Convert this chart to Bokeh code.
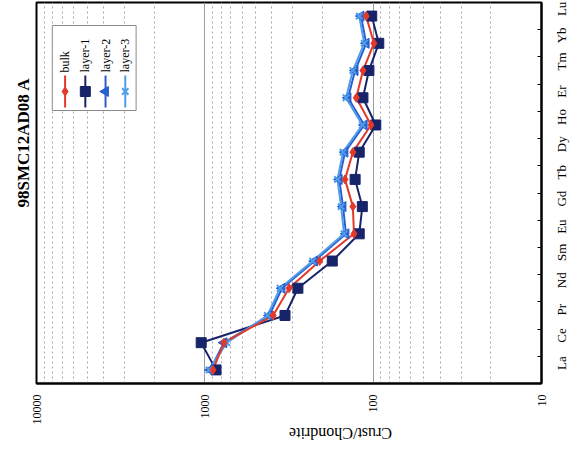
import math
from bokeh.plotting import figure
from bokeh.models import Range1d, FixedTicker, PrintfTickFormatter
from bokeh.core.properties import value
from bokeh.embed import file_html
from bokeh.resources import INLINE

# ---- data ----
elements = ["La", "Ce", "Pr", "Nd", "Sm", "Eu", "Gd", "Tb", "Dy", "Ho", "Er", "Tm", "Yb", "Lu"]
bulk   = [894, 770, 393, 316, 208, 130, 132, 147, 132, 103, 126, 115, 99, 110]
layer1 = [858, 1051, 334, 280, 175, 121, 116, 128, 121, 96.5, 115, 106, 92.6, 102]
layer2 = [931, 770, 414, 348, 223, 145, 151, 159, 147, 113, 141, 128, 110, 118]
layer3 = [943, 740, 425, 357, 229, 149, 155, 163, 151, 116, 145, 132, 113, 121]
value_ticks = [10, 100, 1000, 10000]
series_names = ["bulk", "layer-1", "layer-2", "layer-3"]

SERIF = "Liberation Serif"
pos = list(range(1, len(elements) + 1))

W, H = 579, 457
FL, FR, FT, FB = 36, 548, 2, 383   # frame edges in px

p = figure(width=W, height=H, x_axis_type="log",
           x_range=Range1d(10000, 10), y_range=Range1d(0.5, len(elements) + 0.5),
           y_axis_location="right", output_backend="svg", toolbar_location=None,
           title="98SMC12AD08 A", title_location="left",
           min_border_left=FL, min_border_right=W - FR, min_border_top=FT, min_border_bottom=H - FB)

p.background_fill_color = "white"
p.border_fill_color = "white"
p.outline_line_color = "black"
p.outline_line_width = 2

p.title.text_font = SERIF
p.title.text_font_size = "17px"
p.title.text_font_style = "bold"
p.title.text_color = "black"
p.title.align = "left"
p.title.offset = 176
p.title.standoff = 7

# value axis (bottom, reversed log)
minors = [k * d for d in (10, 100, 1000) for k in range(2, 10)]
xa = p.xaxis[0]
xa.ticker = FixedTicker(ticks=value_ticks, minor_ticks=minors)
xa.formatter = PrintfTickFormatter(format="%d")
xa.major_label_orientation = math.pi / 2
xa.major_tick_line_color = None
xa.minor_tick_line_color = None
xa.axis_line_color = "black"
xa.axis_line_width = 2
xa.major_label_standoff = 5
xa.major_label_text_font = SERIF
xa.major_label_text_font_size = "12px"
xa.major_label_text_color = "black"
xa.axis_label = "Crust/Chondrite"
xa.axis_label_orientation = math.pi
xa.axis_label_text_font = SERIF
xa.axis_label_text_font_size = "16px"
xa.axis_label_text_font_style = "normal"
xa.axis_label_text_color = "black"
xa.axis_label_standoff = 6

p.xgrid.grid_line_color = "#9c9c9c"
p.xgrid.grid_line_width = 1
p.xgrid.minor_grid_line_color = "#a8a8a8"
p.xgrid.minor_grid_line_dash = "2 3"
p.ygrid.grid_line_color = None

# category axis (right)
ya = p.yaxis[0]
ya.ticker = FixedTicker(ticks=pos, minor_ticks=[v + 0.5 for v in pos[:-1]])
ya.major_label_overrides = {v: e for v, e in zip(pos, elements)}
ya.major_label_orientation = math.pi / 2
ya.major_tick_line_color = None
ya.minor_tick_line_color = "black"
ya.minor_tick_in = 4
ya.minor_tick_out = 0
ya.axis_line_color = "black"
ya.axis_line_width = 2
ya.major_label_standoff = 14
ya.major_label_text_font = SERIF
ya.major_label_text_font_size = "13px"
ya.major_label_text_color = "black"

# series
styles = [
    dict(data=bulk,   color="#e23a2a", marker="diamond",  size=9,  angle=0.0),
    dict(data=layer1, color="#17246a", marker="square",   size=10, angle=0.0),
    dict(data=layer2, color="#2a5fd0", marker="triangle", size=10, angle=math.pi / 2),
    dict(data=layer3, color="#4f9de8", marker="x",        size=9,  angle=0.0),
]
draw_order = [1, 2, 3, 0]
for i in draw_order:
    s = styles[i]
    p.line(x=s["data"], y=pos, line_color=s["color"], line_width=2)
for i in draw_order:
    s = styles[i]
    p.scatter(x=s["data"], y=pos, marker=s["marker"], size=s["size"], angle=s["angle"],
              fill_color=s["color"], line_color=s["color"], line_width=2 if s["marker"] == "x" else 1)

# legend (rotated, drawn by hand)
def xv(px):
    return 10 ** (4 - (px - FL) / (FR - FL) * 3)

def yv(py):
    return (len(elements) + 0.5) - (py - FT) / (FB - FT) * len(elements)

p.quad(left=[xv(52)], right=[xv(137)], top=[yv(25)], bottom=[yv(110)],
       fill_color="white", line_color="#8a8a8a", line_width=1)
key_x = [65, 85.5, 106, 126]
for kx, s, name in zip(key_x, styles, series_names):
    p.segment(x0=[xv(kx)], y0=[yv(75)], x1=[xv(kx)], y1=[yv(107)], line_color=s["color"], line_width=2)
    p.scatter(x=[xv(kx)], y=[yv(91)], marker=s["marker"], size=s["size"], angle=s["angle"],
              fill_color=s["color"], line_color=s["color"], line_width=2 if s["marker"] == "x" else 1)
    p.text(x=[xv(kx)], y=[yv(72)], text=[name], angle=math.pi / 2, text_align="left",
           text_baseline="middle", text_font=value(SERIF), text_font_size="12px", text_color="black")

open("out.html", "w").write(file_html(p, INLINE))
